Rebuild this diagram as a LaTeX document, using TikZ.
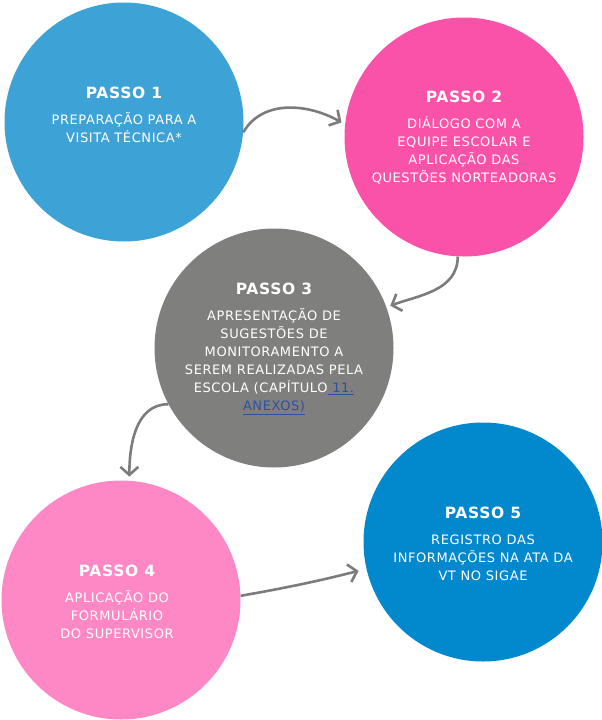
\documentclass[tikz,border=0pt]{standalone}
\usepackage{fontspec}
\setmainfont[LetterSpace=4.5]{DejaVu Sans}
\usetikzlibrary{arrows.meta}
\definecolor{passoum}{HTML}{3DA3D7}
\definecolor{passodois}{HTML}{F952A8}
\definecolor{passotres}{HTML}{7F807E}
\definecolor{passoquatro}{HTML}{FE88C5}
\definecolor{passocinco}{HTML}{0288CC}
\definecolor{setacinza}{HTML}{7C7C7C}
\definecolor{linkazul}{HTML}{2E4FA3}
\newcommand\titulo[1]{{\fontsize{15.5}{18}\bfseries #1}}
\newcommand\linkref[1]{\textcolor{linkazul}{\underline{#1}}}
\begin{document}
\begin{tikzpicture}[x=1pt,y=-1pt,
        passo/.style={circle,minimum size=239pt,inner sep=0pt},
        rotulo/.style={text=white,align=center,anchor=north,inner sep=0pt,
                       font=\fontsize{13}{18}\selectfont},
        seta/.style={draw=setacinza,line width=2.6pt,shorten >=4pt,
                     -{Straight Barb[length=8pt,width=18pt]}}]
        \useasboundingbox (0,0) rectangle (602,720);
        % circulos
        \node[passo,fill=passoum]     (p1) at (124,122) {};
        \node[passo,fill=passodois]   (p2) at (464,137) {};
        \node[passo,fill=passotres]   (p3) at (274,348) {};
        \node[passo,fill=passoquatro] (p4) at (121,600) {};
        \node[passo,fill=passocinco]  (p5) at (483,542) {};
        % textos
        \node[rotulo] (t1) at (124,87)  {\titulo{PASSO 1}\\[8pt]PREPARAÇÃO PARA A\\VISITA TÉCNICA*};
        \node[rotulo] (t2) at (464,91)  {\titulo{PASSO 2}\\[8pt]DIÁLOGO COM A\\EQUIPE ESCOLAR E\\APLICAÇÃO DAS\\QUESTÕES NORTEADORAS};
        \node[rotulo] (t3) at (274,283) {\titulo{PASSO 3}\\[8pt]APRESENTAÇÃO DE\\SUGESTÕES DE\\MONITORAMENTO A\\SEREM REALIZADAS PELA\\ESCOLA (CAPÍTULO\linkref{\ 11.}\\\linkref{ANEXOS)}};
        \node[rotulo] (t4) at (117,565) {\titulo{PASSO 4}\\[8pt]APLICAÇÃO DO\\FORMULÁRIO\\DO SUPERVISOR};
        \node[rotulo] (t5) at (483,507) {\titulo{PASSO 5}\\[8pt]REGISTRO DAS\\INFORMAÇÕES NA ATA DA\\VT NO SIGAE};
        % setas
        \draw[seta] (p1.-5) to[out=60,in=150] (p2.174);
        \draw[seta] (p2.267) to[out=-90,in=20] (p3.20);
        \draw[seta] (p3.208) to[out=180,in=90] (p4.86);
        \draw[seta,shorten >=8pt] (p4.2) to[bend right=2] (p5.193);
\end{tikzpicture}
\end{document}
